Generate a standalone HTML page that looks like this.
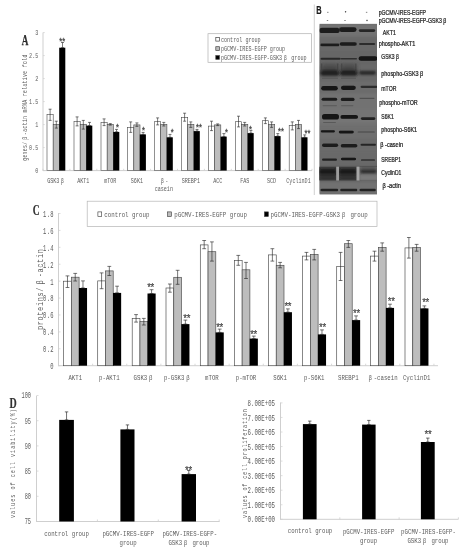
<!DOCTYPE html>
<html lang="en">
<head>
<meta charset="utf-8">
<title>Figure</title>
<style>
html,body{margin:0;padding:0;background:#fff;}
body{width:466px;height:550px;overflow:hidden;}
svg{display:block;filter:blur(0.3px);}
.sf{font-family:"Liberation Serif", "Noto Serif CJK SC", serif;fill:#333333;}
.mf{font-family:"Liberation Mono", "Noto Sans CJK SC", monospace;fill:#5c5c5c;}
.ss{font-family:"Liberation Sans", "Noto Sans CJK SC", sans-serif;fill:#1a1a1a;}
</style>
</head>
<body>
<svg width="466" height="550" viewBox="0 0 466 550">
<rect x="0" y="0" width="466" height="550" fill="#ffffff"/>
<line x1="43.00" y1="32.50" x2="43.00" y2="170.90" stroke="#cfcfcf" stroke-width="1.0"/>
<line x1="43.00" y1="170.60" x2="312.00" y2="170.60" stroke="#cfcfcf" stroke-width="1.0"/>
<line x1="43.00" y1="170.60" x2="44.80" y2="170.60" stroke="#cfcfcf" stroke-width="0.7"/>
<g transform="translate(38.30 170.50) scale(0.6914 1)" class="mf" font-size="7.4">
<text x="-4.44" y="2.44">0</text>
</g>
<line x1="43.00" y1="147.60" x2="44.80" y2="147.60" stroke="#cfcfcf" stroke-width="0.7"/>
<g transform="translate(38.30 147.50) scale(0.6914 1)" class="mf" font-size="7.4">
<text x="-13.32 -8.88 -4.44" y="2.44">0.5</text>
</g>
<line x1="43.00" y1="124.60" x2="44.80" y2="124.60" stroke="#cfcfcf" stroke-width="0.7"/>
<g transform="translate(38.30 124.50) scale(0.6914 1)" class="mf" font-size="7.4">
<text x="-4.44" y="2.44">1</text>
</g>
<line x1="43.00" y1="101.60" x2="44.80" y2="101.60" stroke="#cfcfcf" stroke-width="0.7"/>
<g transform="translate(38.30 101.50) scale(0.6914 1)" class="mf" font-size="7.4">
<text x="-13.32 -8.88 -4.44" y="2.44">1.5</text>
</g>
<line x1="43.00" y1="78.60" x2="44.80" y2="78.60" stroke="#cfcfcf" stroke-width="0.7"/>
<g transform="translate(38.30 78.50) scale(0.6914 1)" class="mf" font-size="7.4">
<text x="-4.44" y="2.44">2</text>
</g>
<line x1="43.00" y1="55.60" x2="44.80" y2="55.60" stroke="#cfcfcf" stroke-width="0.7"/>
<g transform="translate(38.30 55.50) scale(0.6914 1)" class="mf" font-size="7.4">
<text x="-13.32 -8.88 -4.44" y="2.44">2.5</text>
</g>
<line x1="43.00" y1="32.60" x2="44.80" y2="32.60" stroke="#cfcfcf" stroke-width="0.7"/>
<g transform="translate(38.30 32.50) scale(0.6914 1)" class="mf" font-size="7.4">
<text x="-4.44" y="2.44">3</text>
</g>
<line x1="43.00" y1="168.80" x2="43.00" y2="170.60" stroke="#cfcfcf" stroke-width="0.8"/>
<line x1="69.90" y1="168.80" x2="69.90" y2="170.60" stroke="#cfcfcf" stroke-width="0.8"/>
<line x1="96.80" y1="168.80" x2="96.80" y2="170.60" stroke="#cfcfcf" stroke-width="0.8"/>
<line x1="123.70" y1="168.80" x2="123.70" y2="170.60" stroke="#cfcfcf" stroke-width="0.8"/>
<line x1="150.60" y1="168.80" x2="150.60" y2="170.60" stroke="#cfcfcf" stroke-width="0.8"/>
<line x1="177.50" y1="168.80" x2="177.50" y2="170.60" stroke="#cfcfcf" stroke-width="0.8"/>
<line x1="204.40" y1="168.80" x2="204.40" y2="170.60" stroke="#cfcfcf" stroke-width="0.8"/>
<line x1="231.30" y1="168.80" x2="231.30" y2="170.60" stroke="#cfcfcf" stroke-width="0.8"/>
<line x1="258.20" y1="168.80" x2="258.20" y2="170.60" stroke="#cfcfcf" stroke-width="0.8"/>
<line x1="285.10" y1="168.80" x2="285.10" y2="170.60" stroke="#cfcfcf" stroke-width="0.8"/>
<line x1="312.00" y1="168.80" x2="312.00" y2="170.60" stroke="#cfcfcf" stroke-width="0.8"/>
<rect x="47.00" y="114.40" width="6.20" height="56.20" fill="#fff" stroke="#484848" stroke-width="0.6"/>
<line x1="50.10" y1="109.20" x2="50.10" y2="120.40" stroke="#222" stroke-width="0.6"/>
<line x1="48.60" y1="109.20" x2="51.60" y2="109.20" stroke="#222" stroke-width="0.6"/>
<line x1="48.60" y1="120.40" x2="51.60" y2="120.40" stroke="#222" stroke-width="0.6"/>
<rect x="53.20" y="124.40" width="6.20" height="46.20" fill="#bdbdbd" stroke="#484848" stroke-width="0.6"/>
<line x1="56.30" y1="121.20" x2="56.30" y2="128.10" stroke="#222" stroke-width="0.6"/>
<line x1="54.80" y1="121.20" x2="57.80" y2="121.20" stroke="#222" stroke-width="0.6"/>
<line x1="54.80" y1="128.10" x2="57.80" y2="128.10" stroke="#222" stroke-width="0.6"/>
<rect x="59.20" y="47.70" width="6.10" height="122.90" fill="#000"/>
<line x1="62.50" y1="42.50" x2="62.50" y2="47.70" stroke="#222" stroke-width="0.6"/>
<line x1="61.00" y1="42.50" x2="64.00" y2="42.50" stroke="#222" stroke-width="0.6"/>
<line x1="61.00" y1="47.70" x2="64.00" y2="47.70" stroke="#222" stroke-width="0.6"/>
<text class="mf" transform="scale(0.8419 1)" x="69.57 73.13" y="44.54" font-size="8.82" fill="#333" stroke="#333" stroke-width="0.25">**</text>
<g transform="translate(56.30 180.70) scale(0.6517 1)" class="mf" font-size="7.8">
<text x="-14.04 -9.36 -4.68 0.00" y="2.57">GSK3</text>
<text x="7.02" y="2.57">β</text>
</g>
<rect x="74.00" y="121.40" width="6.20" height="49.20" fill="#fff" stroke="#484848" stroke-width="0.6"/>
<line x1="77.10" y1="116.90" x2="77.10" y2="125.90" stroke="#222" stroke-width="0.6"/>
<line x1="75.60" y1="116.90" x2="78.60" y2="116.90" stroke="#222" stroke-width="0.6"/>
<line x1="75.60" y1="125.90" x2="78.60" y2="125.90" stroke="#222" stroke-width="0.6"/>
<rect x="80.20" y="124.40" width="6.20" height="46.20" fill="#bdbdbd" stroke="#484848" stroke-width="0.6"/>
<line x1="83.30" y1="120.40" x2="83.30" y2="129.10" stroke="#222" stroke-width="0.6"/>
<line x1="81.80" y1="120.40" x2="84.80" y2="120.40" stroke="#222" stroke-width="0.6"/>
<line x1="81.80" y1="129.10" x2="84.80" y2="129.10" stroke="#222" stroke-width="0.6"/>
<rect x="86.20" y="125.60" width="6.10" height="45.00" fill="#000"/>
<line x1="89.50" y1="122.40" x2="89.50" y2="125.60" stroke="#222" stroke-width="0.6"/>
<line x1="88.00" y1="122.40" x2="91.00" y2="122.40" stroke="#222" stroke-width="0.6"/>
<line x1="88.00" y1="125.60" x2="91.00" y2="125.60" stroke="#222" stroke-width="0.6"/>
<g transform="translate(83.30 180.70) scale(0.6517 1)" class="mf" font-size="7.8">
<text x="-9.36 -4.68 0.00 4.68" y="2.57">AKT1</text>
</g>
<rect x="101.00" y="122.40" width="6.20" height="48.20" fill="#fff" stroke="#484848" stroke-width="0.6"/>
<line x1="104.10" y1="118.90" x2="104.10" y2="125.60" stroke="#222" stroke-width="0.6"/>
<line x1="102.60" y1="118.90" x2="105.60" y2="118.90" stroke="#222" stroke-width="0.6"/>
<line x1="102.60" y1="125.60" x2="105.60" y2="125.60" stroke="#222" stroke-width="0.6"/>
<rect x="107.20" y="124.40" width="6.20" height="46.20" fill="#bdbdbd" stroke="#484848" stroke-width="0.6"/>
<line x1="110.30" y1="123.60" x2="110.30" y2="125.10" stroke="#222" stroke-width="0.6"/>
<line x1="108.80" y1="123.60" x2="111.80" y2="123.60" stroke="#222" stroke-width="0.6"/>
<line x1="108.80" y1="125.10" x2="111.80" y2="125.10" stroke="#222" stroke-width="0.6"/>
<rect x="113.20" y="131.90" width="6.10" height="38.70" fill="#000"/>
<line x1="116.50" y1="129.40" x2="116.50" y2="131.90" stroke="#222" stroke-width="0.6"/>
<line x1="115.00" y1="129.40" x2="118.00" y2="129.40" stroke="#222" stroke-width="0.6"/>
<line x1="115.00" y1="131.90" x2="118.00" y2="131.90" stroke="#222" stroke-width="0.6"/>
<text class="mf" transform="scale(0.8419 1)" x="137.04" y="130.94" font-size="8.82" fill="#333" stroke="#333" stroke-width="0.25">*</text>
<g transform="translate(110.30 180.70) scale(0.6517 1)" class="mf" font-size="7.8">
<text x="-9.36 -4.68 0.00 4.68" y="2.57">mTOR</text>
</g>
<rect x="127.60" y="127.40" width="6.20" height="43.20" fill="#fff" stroke="#484848" stroke-width="0.6"/>
<line x1="130.70" y1="121.90" x2="130.70" y2="132.40" stroke="#222" stroke-width="0.6"/>
<line x1="129.20" y1="121.90" x2="132.20" y2="121.90" stroke="#222" stroke-width="0.6"/>
<line x1="129.20" y1="132.40" x2="132.20" y2="132.40" stroke="#222" stroke-width="0.6"/>
<rect x="133.80" y="124.90" width="6.20" height="45.70" fill="#bdbdbd" stroke="#484848" stroke-width="0.6"/>
<line x1="136.90" y1="122.90" x2="136.90" y2="126.40" stroke="#222" stroke-width="0.6"/>
<line x1="135.40" y1="122.90" x2="138.40" y2="122.90" stroke="#222" stroke-width="0.6"/>
<line x1="135.40" y1="126.40" x2="138.40" y2="126.40" stroke="#222" stroke-width="0.6"/>
<rect x="139.80" y="134.40" width="6.10" height="36.20" fill="#000"/>
<line x1="143.10" y1="132.40" x2="143.10" y2="134.40" stroke="#222" stroke-width="0.6"/>
<line x1="141.60" y1="132.40" x2="144.60" y2="132.40" stroke="#222" stroke-width="0.6"/>
<line x1="141.60" y1="134.40" x2="144.60" y2="134.40" stroke="#222" stroke-width="0.6"/>
<text class="mf" transform="scale(0.8419 1)" x="167.68" y="133.74" font-size="8.82" fill="#333" stroke="#333" stroke-width="0.25">*</text>
<g transform="translate(136.90 180.70) scale(0.6517 1)" class="mf" font-size="7.8">
<text x="-9.36 -4.68 0.00 4.68" y="2.57">S6K1</text>
</g>
<rect x="154.50" y="121.70" width="6.20" height="48.90" fill="#fff" stroke="#484848" stroke-width="0.6"/>
<line x1="157.60" y1="117.90" x2="157.60" y2="124.90" stroke="#222" stroke-width="0.6"/>
<line x1="156.10" y1="117.90" x2="159.10" y2="117.90" stroke="#222" stroke-width="0.6"/>
<line x1="156.10" y1="124.90" x2="159.10" y2="124.90" stroke="#222" stroke-width="0.6"/>
<rect x="160.70" y="124.40" width="6.20" height="46.20" fill="#bdbdbd" stroke="#484848" stroke-width="0.6"/>
<line x1="163.80" y1="122.40" x2="163.80" y2="126.00" stroke="#222" stroke-width="0.6"/>
<line x1="162.30" y1="122.40" x2="165.30" y2="122.40" stroke="#222" stroke-width="0.6"/>
<line x1="162.30" y1="126.00" x2="165.30" y2="126.00" stroke="#222" stroke-width="0.6"/>
<rect x="166.70" y="137.30" width="6.10" height="33.30" fill="#000"/>
<line x1="170.00" y1="134.40" x2="170.00" y2="137.30" stroke="#222" stroke-width="0.6"/>
<line x1="168.50" y1="134.40" x2="171.50" y2="134.40" stroke="#222" stroke-width="0.6"/>
<line x1="168.50" y1="137.30" x2="171.50" y2="137.30" stroke="#222" stroke-width="0.6"/>
<text class="mf" transform="scale(0.8419 1)" x="202.01" y="136.34" font-size="8.82" fill="#333" stroke="#333" stroke-width="0.25">*</text>
<g transform="translate(163.80 180.70) scale(0.6517 1)" class="mf" font-size="7.8">
<text x="-4.68" y="2.57">β</text>
<text x="2.34" y="2.57">-</text>
</g>
<g transform="translate(163.80 188.60) scale(0.6517 1)" class="mf" font-size="7.8">
<text x="-14.04 -9.36 -4.68 0.00 4.68 9.36" y="2.57">casein</text>
</g>
<rect x="181.50" y="117.40" width="6.20" height="53.20" fill="#fff" stroke="#484848" stroke-width="0.6"/>
<line x1="184.60" y1="113.20" x2="184.60" y2="121.20" stroke="#222" stroke-width="0.6"/>
<line x1="183.10" y1="113.20" x2="186.10" y2="113.20" stroke="#222" stroke-width="0.6"/>
<line x1="183.10" y1="121.20" x2="186.10" y2="121.20" stroke="#222" stroke-width="0.6"/>
<rect x="187.70" y="124.40" width="6.20" height="46.20" fill="#bdbdbd" stroke="#484848" stroke-width="0.6"/>
<line x1="190.80" y1="121.90" x2="190.80" y2="127.40" stroke="#222" stroke-width="0.6"/>
<line x1="189.30" y1="121.90" x2="192.30" y2="121.90" stroke="#222" stroke-width="0.6"/>
<line x1="189.30" y1="127.40" x2="192.30" y2="127.40" stroke="#222" stroke-width="0.6"/>
<rect x="193.70" y="131.10" width="6.10" height="39.50" fill="#000"/>
<line x1="197.00" y1="129.40" x2="197.00" y2="131.10" stroke="#222" stroke-width="0.6"/>
<line x1="195.50" y1="129.40" x2="198.50" y2="129.40" stroke="#222" stroke-width="0.6"/>
<line x1="195.50" y1="131.10" x2="198.50" y2="131.10" stroke="#222" stroke-width="0.6"/>
<text class="mf" transform="scale(0.8419 1)" x="231.94 235.50" y="130.74" font-size="8.82" fill="#333" stroke="#333" stroke-width="0.25">**</text>
<g transform="translate(190.80 180.70) scale(0.6517 1)" class="mf" font-size="7.8">
<text x="-14.04 -9.36 -4.68 0.00 4.68 9.36" y="2.57">SREBP1</text>
</g>
<rect x="208.40" y="126.10" width="6.20" height="44.50" fill="#fff" stroke="#484848" stroke-width="0.6"/>
<line x1="211.50" y1="121.20" x2="211.50" y2="130.60" stroke="#222" stroke-width="0.6"/>
<line x1="210.00" y1="121.20" x2="213.00" y2="121.20" stroke="#222" stroke-width="0.6"/>
<line x1="210.00" y1="130.60" x2="213.00" y2="130.60" stroke="#222" stroke-width="0.6"/>
<rect x="214.60" y="124.90" width="6.20" height="45.70" fill="#bdbdbd" stroke="#484848" stroke-width="0.6"/>
<line x1="217.70" y1="123.90" x2="217.70" y2="125.60" stroke="#222" stroke-width="0.6"/>
<line x1="216.20" y1="123.90" x2="219.20" y2="123.90" stroke="#222" stroke-width="0.6"/>
<line x1="216.20" y1="125.60" x2="219.20" y2="125.60" stroke="#222" stroke-width="0.6"/>
<rect x="220.60" y="136.60" width="6.10" height="34.00" fill="#000"/>
<line x1="223.90" y1="133.60" x2="223.90" y2="136.60" stroke="#222" stroke-width="0.6"/>
<line x1="222.40" y1="133.60" x2="225.40" y2="133.60" stroke="#222" stroke-width="0.6"/>
<line x1="222.40" y1="136.60" x2="225.40" y2="136.60" stroke="#222" stroke-width="0.6"/>
<text class="mf" transform="scale(0.8419 1)" x="266.39" y="136.14" font-size="8.82" fill="#333" stroke="#333" stroke-width="0.25">*</text>
<g transform="translate(217.70 180.70) scale(0.6517 1)" class="mf" font-size="7.8">
<text x="-7.02 -2.34 2.34" y="2.57">ACC</text>
</g>
<rect x="235.40" y="121.70" width="6.20" height="48.90" fill="#fff" stroke="#484848" stroke-width="0.6"/>
<line x1="238.50" y1="116.20" x2="238.50" y2="126.90" stroke="#222" stroke-width="0.6"/>
<line x1="237.00" y1="116.20" x2="240.00" y2="116.20" stroke="#222" stroke-width="0.6"/>
<line x1="237.00" y1="126.90" x2="240.00" y2="126.90" stroke="#222" stroke-width="0.6"/>
<rect x="241.60" y="124.40" width="6.20" height="46.20" fill="#bdbdbd" stroke="#484848" stroke-width="0.6"/>
<line x1="244.70" y1="122.40" x2="244.70" y2="126.00" stroke="#222" stroke-width="0.6"/>
<line x1="243.20" y1="122.40" x2="246.20" y2="122.40" stroke="#222" stroke-width="0.6"/>
<line x1="243.20" y1="126.00" x2="246.20" y2="126.00" stroke="#222" stroke-width="0.6"/>
<rect x="247.60" y="133.10" width="6.10" height="37.50" fill="#000"/>
<line x1="250.90" y1="130.40" x2="250.90" y2="133.10" stroke="#222" stroke-width="0.6"/>
<line x1="249.40" y1="130.40" x2="252.40" y2="130.40" stroke="#222" stroke-width="0.6"/>
<line x1="249.40" y1="133.10" x2="252.40" y2="133.10" stroke="#222" stroke-width="0.6"/>
<text class="mf" transform="scale(0.8419 1)" x="295.01" y="132.54" font-size="8.82" fill="#333" stroke="#333" stroke-width="0.25">*</text>
<g transform="translate(244.70 180.70) scale(0.6517 1)" class="mf" font-size="7.8">
<text x="-7.02 -2.34 2.34" y="2.57">FAS</text>
</g>
<rect x="262.30" y="120.70" width="6.20" height="49.90" fill="#fff" stroke="#484848" stroke-width="0.6"/>
<line x1="265.40" y1="117.90" x2="265.40" y2="123.60" stroke="#222" stroke-width="0.6"/>
<line x1="263.90" y1="117.90" x2="266.90" y2="117.90" stroke="#222" stroke-width="0.6"/>
<line x1="263.90" y1="123.60" x2="266.90" y2="123.60" stroke="#222" stroke-width="0.6"/>
<rect x="268.50" y="124.40" width="6.20" height="46.20" fill="#bdbdbd" stroke="#484848" stroke-width="0.6"/>
<line x1="271.60" y1="121.90" x2="271.60" y2="127.40" stroke="#222" stroke-width="0.6"/>
<line x1="270.10" y1="121.90" x2="273.10" y2="121.90" stroke="#222" stroke-width="0.6"/>
<line x1="270.10" y1="127.40" x2="273.10" y2="127.40" stroke="#222" stroke-width="0.6"/>
<rect x="274.50" y="136.10" width="6.10" height="34.50" fill="#000"/>
<line x1="277.80" y1="133.60" x2="277.80" y2="136.10" stroke="#222" stroke-width="0.6"/>
<line x1="276.30" y1="133.60" x2="279.30" y2="133.60" stroke="#222" stroke-width="0.6"/>
<line x1="276.30" y1="136.10" x2="279.30" y2="136.10" stroke="#222" stroke-width="0.6"/>
<text class="mf" transform="scale(0.8419 1)" x="329.34 332.90" y="134.94" font-size="8.82" fill="#333" stroke="#333" stroke-width="0.25">**</text>
<g transform="translate(271.60 180.70) scale(0.6517 1)" class="mf" font-size="7.8">
<text x="-7.02 -2.34 2.34" y="2.57">SCD</text>
</g>
<rect x="289.20" y="125.60" width="6.20" height="45.00" fill="#fff" stroke="#484848" stroke-width="0.6"/>
<line x1="292.30" y1="121.90" x2="292.30" y2="129.90" stroke="#222" stroke-width="0.6"/>
<line x1="290.80" y1="121.90" x2="293.80" y2="121.90" stroke="#222" stroke-width="0.6"/>
<line x1="290.80" y1="129.90" x2="293.80" y2="129.90" stroke="#222" stroke-width="0.6"/>
<rect x="295.40" y="124.40" width="6.20" height="46.20" fill="#bdbdbd" stroke="#484848" stroke-width="0.6"/>
<line x1="298.50" y1="120.40" x2="298.50" y2="128.60" stroke="#222" stroke-width="0.6"/>
<line x1="297.00" y1="120.40" x2="300.00" y2="120.40" stroke="#222" stroke-width="0.6"/>
<line x1="297.00" y1="128.60" x2="300.00" y2="128.60" stroke="#222" stroke-width="0.6"/>
<rect x="301.40" y="137.30" width="6.10" height="33.30" fill="#000"/>
<line x1="304.70" y1="134.90" x2="304.70" y2="137.30" stroke="#222" stroke-width="0.6"/>
<line x1="303.20" y1="134.90" x2="306.20" y2="134.90" stroke="#222" stroke-width="0.6"/>
<line x1="303.20" y1="137.30" x2="306.20" y2="137.30" stroke="#222" stroke-width="0.6"/>
<text class="mf" transform="scale(0.8419 1)" x="360.93 364.50" y="136.94" font-size="8.82" fill="#333" stroke="#333" stroke-width="0.25">**</text>
<g transform="translate(298.50 180.70) scale(0.6517 1)" class="mf" font-size="7.8">
<text x="-18.72 -14.04 -9.36 -4.68 0.00 4.68 9.36 14.04" y="2.57">CyclinD1</text>
</g>
<g transform="translate(24.50 161.00) rotate(-90) scale(0.7108 1)" class="mf" font-size="6.8" fill="#666666">
<text x="0.23 4.77 9.31 13.85 18.39 22.93" y="2.24">genes/</text>
<text x="29.74" y="2.24">β</text>
<text x="36.55 41.09 45.63 50.18 54.72 59.26" y="2.24">-actin</text>
<text x="68.34 72.88 77.42 81.96" y="2.24">mRNA</text>
<text x="91.04 95.58 100.12 104.66 109.20 113.74 118.28 122.82" y="2.24">relative</text>
<text x="131.90 136.44 140.98 145.52" y="2.24">fold</text>
</g>
<text class="sf" x="21.70" y="45.30" font-size="14.4" textLength="6.60" lengthAdjust="spacingAndGlyphs" fill="#111" font-weight="bold" stroke="#111" stroke-width="0.25">A</text>
<rect x="208.00" y="33.70" width="103.50" height="28.60" fill="#fff" stroke="#b0b0b0" stroke-width="0.7"/>
<rect x="215.80" y="37.40" width="3.60" height="3.70" fill="#fff" stroke="#444" stroke-width="0.7"/>
<g transform="translate(220.90 39.10) scale(0.6711 1)" class="mf" font-size="7.6">
<text x="0.00 4.56 9.12 13.68 18.24 22.80 27.36" y="2.51">control</text>
<text x="36.48 41.04 45.60 50.16 54.72" y="2.51">group</text>
</g>
<rect x="215.80" y="46.70" width="3.60" height="3.70" fill="#bdbdbd" stroke="#444" stroke-width="0.7"/>
<g transform="translate(220.90 48.40) scale(0.6711 1)" class="mf" font-size="7.6">
<text x="0.00 4.56 9.12 13.68 18.24 22.80 27.36 31.92 36.48 41.04 45.60 50.16 54.72 59.28 63.84" y="2.51">pGCMV-IRES-EGFP</text>
<text x="72.96 77.52 82.08 86.64 91.20" y="2.51">group</text>
</g>
<rect x="215.80" y="55.60" width="3.60" height="3.70" fill="#000" stroke="#444" stroke-width="0.7"/>
<g transform="translate(220.90 57.30) scale(0.6711 1)" class="mf" font-size="7.6">
<text x="0.00 4.56 9.12 13.68 18.24 22.80 27.36 31.92 36.48 41.04 45.60 50.16 54.72 59.28 63.84 68.40 72.96 77.52 82.08 86.64" y="2.51">pGCMV-IRES-EGFP-GSK3</text>
<text x="93.48" y="2.51">β</text>
<text x="104.88 109.44 114.00 118.56 123.12" y="2.51">group</text>
</g>
<line x1="314.30" y1="4.50" x2="314.30" y2="195.00" stroke="#c4c4c4" stroke-width="0.8"/>
<defs>
<filter id="b1" x="-20%" y="-80%" width="140%" height="260%"><feGaussianBlur stdDeviation="0.6"/></filter>
<filter id="b2" x="-20%" y="-80%" width="140%" height="260%"><feGaussianBlur stdDeviation="1.3"/></filter>
<filter id="b3" x="-20%" y="-40%" width="140%" height="180%"><feGaussianBlur stdDeviation="2.2"/></filter>
<filter id="bs" x="-10%" y="-10%" width="120%" height="120%"><feGaussianBlur stdDeviation="1.6"/></filter>
<clipPath id="bc"><rect x="319.5" y="23.8" width="57.5" height="170.7"/></clipPath>
</defs>
<g clip-path="url(#bc)">
<rect x="319.5" y="23.8" width="57.5" height="170.7" fill="#6c6c6c"/>
<g filter="url(#bs)">
<rect x="313.5" y="23.8" width="69.5" height="12.7" fill="#737373"/>
<rect x="313.5" y="36.5" width="69.5" height="14.5" fill="#686868"/>
<rect x="313.5" y="51" width="69.5" height="13.5" fill="#666666"/>
<rect x="313.5" y="64.5" width="69.5" height="16.5" fill="#676767"/>
<rect x="313.5" y="81" width="69.5" height="12.5" fill="#6c6c6c"/>
<rect x="313.5" y="93.5" width="69.5" height="15.5" fill="#727272"/>
<rect x="313.5" y="109" width="69.5" height="15.5" fill="#747474"/>
<rect x="313.5" y="124.5" width="69.5" height="13.5" fill="#6e6e6e"/>
<rect x="313.5" y="138" width="69.5" height="14.5" fill="#6a6a6a"/>
<rect x="313.5" y="152.5" width="69.5" height="14.0" fill="#696969"/>
<rect x="313.5" y="166.5" width="69.5" height="14.5" fill="#565656"/>
<rect x="313.5" y="181" width="69.5" height="13.5" fill="#717171"/>
</g>
<rect x="319.3" y="27.75" width="20.3" height="5.30" rx="2.60" fill="#1e1e1e" opacity="1.0" filter="url(#b1)"/>
<rect x="339.0" y="27.20" width="17.6" height="4.80" rx="2.40" fill="#1e1e1e" opacity="1.0" filter="url(#b1)"/>
<rect x="358.8" y="29.20" width="16.4" height="2.80" rx="1.40" fill="#262626" opacity="1.0" filter="url(#b1)"/>
<rect x="320.4" y="43.45" width="19.0" height="2.90" rx="1.45" fill="#1e1e1e" opacity="1.0" filter="url(#b1)"/>
<rect x="339.6" y="42.20" width="17.2" height="3.60" rx="1.80" fill="#1e1e1e" opacity="1.0" filter="url(#b1)"/>
<rect x="359.0" y="42.95" width="16.2" height="2.10" rx="1.05" fill="#282828" opacity="0.9" filter="url(#b1)"/>
<rect x="320.6" y="57.85" width="20.0" height="1.90" rx="0.95" fill="#222" opacity="0.9" filter="url(#b1)"/>
<rect x="340.6" y="58.00" width="16.4" height="1.60" rx="0.80" fill="#262626" opacity="0.85" filter="url(#b1)"/>
<rect x="358.6" y="56.20" width="18.9" height="4.60" rx="2.30" fill="#141414" opacity="1.0" filter="url(#b1)"/>
<rect x="321.0" y="64.25" width="17.8" height="9.50" rx="2.60" fill="#333" opacity="0.6" filter="url(#b3)"/>
<rect x="340.6" y="64.25" width="16.2" height="9.50" rx="2.60" fill="#333" opacity="0.6" filter="url(#b3)"/>
<rect x="320.4" y="70.40" width="18.8" height="5.20" rx="2.60" fill="#1c1c1c" opacity="0.95" filter="url(#b2)"/>
<rect x="340.0" y="70.20" width="17.4" height="5.40" rx="2.60" fill="#1c1c1c" opacity="0.95" filter="url(#b2)"/>
<rect x="359.0" y="70.80" width="17.0" height="4.00" rx="2.00" fill="#242424" opacity="0.9" filter="url(#b2)"/>
<rect x="320.90000000000003" y="63.5" width="1.4" height="9" fill="#3a3a3a" opacity="0.55" filter="url(#b1)"/>
<rect x="336.90000000000003" y="63.5" width="1.4" height="9" fill="#3a3a3a" opacity="0.55" filter="url(#b1)"/>
<rect x="340.90000000000003" y="63.5" width="1.4" height="9" fill="#3a3a3a" opacity="0.55" filter="url(#b1)"/>
<rect x="355.1" y="63.5" width="1.4" height="9" fill="#3a3a3a" opacity="0.55" filter="url(#b1)"/>
<rect x="322.0" y="77.80" width="16.0" height="1.00" rx="0.50" fill="#444" opacity="0.5" filter="url(#b1)"/>
<rect x="341.0" y="77.80" width="15.0" height="1.00" rx="0.50" fill="#444" opacity="0.5" filter="url(#b1)"/>
<rect x="321.2" y="85.90" width="16.6" height="4.60" rx="2.30" fill="#141414" opacity="1.0" filter="url(#b1)"/>
<rect x="341.0" y="85.70" width="14.8" height="4.20" rx="2.10" fill="#141414" opacity="1.0" filter="url(#b1)"/>
<rect x="360.6" y="85.70" width="16.9" height="2.20" rx="1.10" fill="#262626" opacity="0.9" filter="url(#b1)"/>
<rect x="321.6" y="97.65" width="15.6" height="3.10" rx="1.55" fill="#1c1c1c" opacity="1.0" filter="url(#b1)"/>
<rect x="340.8" y="97.85" width="13.8" height="3.10" rx="1.55" fill="#1c1c1c" opacity="1.0" filter="url(#b1)"/>
<rect x="359.5" y="97.70" width="15.0" height="1.20" rx="0.60" fill="#3a3a3a" opacity="0.6" filter="url(#b1)"/>
<rect x="322.5" y="105.35" width="14.5" height="0.90" rx="0.45" fill="#444" opacity="0.55" filter="url(#b1)"/>
<rect x="341.0" y="105.35" width="12.5" height="0.90" rx="0.45" fill="#444" opacity="0.55" filter="url(#b1)"/>
<rect x="322.0" y="114.00" width="17.0" height="5.60" rx="2.60" fill="#141414" opacity="1.0" filter="url(#b1)"/>
<rect x="340.4" y="114.95" width="17.6" height="3.90" rx="1.95" fill="#141414" opacity="1.0" filter="url(#b1)"/>
<rect x="360.9" y="117.20" width="14.4" height="2.80" rx="1.40" fill="#202020" opacity="1.0" filter="url(#b1)"/>
<rect x="323.0" y="121.90" width="13.0" height="0.80" rx="0.40" fill="#3a3a3a" opacity="0.6" filter="url(#b1)"/>
<rect x="320.8" y="130.15" width="14.2" height="2.30" rx="1.15" fill="#141414" opacity="1.0" filter="url(#b1)"/>
<rect x="338.8" y="130.70" width="15.0" height="2.80" rx="1.40" fill="#141414" opacity="1.0" filter="url(#b1)"/>
<rect x="357.6" y="131.40" width="17.2" height="1.20" rx="0.60" fill="#333" opacity="0.65" filter="url(#b1)"/>
<rect x="322.0" y="143.55" width="16.2" height="3.50" rx="1.75" fill="#1e1e1e" opacity="1.0" filter="url(#b1)"/>
<rect x="340.7" y="143.95" width="16.7" height="3.50" rx="1.75" fill="#1e1e1e" opacity="1.0" filter="url(#b1)"/>
<rect x="360.5" y="143.75" width="15.5" height="2.10" rx="1.05" fill="#222" opacity="0.95" filter="url(#b1)"/>
<rect x="322.0" y="158.60" width="15.0" height="2.20" rx="1.10" fill="#222" opacity="1.0" filter="url(#b1)"/>
<rect x="341.0" y="157.65" width="15.0" height="2.70" rx="1.35" fill="#141414" opacity="1.0" filter="url(#b1)"/>
<rect x="361.0" y="159.15" width="14.0" height="1.70" rx="0.85" fill="#262626" opacity="0.9" filter="url(#b1)"/>
<rect x="318.0" y="166.6" width="60.5" height="14.0" fill="#4a4a4a" opacity="1.0" filter="url(#b1)"/>
<rect x="318.5" y="167.2" width="17.9" height="12.8" fill="#3c3c3c" opacity="1.0" filter="url(#b1)"/>
<rect x="339.0" y="167.2" width="17.6" height="12.8" fill="#3c3c3c" opacity="1.0" filter="url(#b1)"/>
<rect x="319.0" y="169.10" width="17.6" height="5.40" rx="2.60" fill="#141414" opacity="0.9" filter="url(#b2)"/>
<rect x="339.0" y="169.10" width="17.8" height="5.40" rx="2.60" fill="#141414" opacity="0.9" filter="url(#b2)"/>
<rect x="320.0" y="176.50" width="16.0" height="2.20" rx="1.10" fill="#1c1c1c" opacity="0.55" filter="url(#b2)"/>
<rect x="339.6" y="176.50" width="16.6" height="2.20" rx="1.10" fill="#1c1c1c" opacity="0.55" filter="url(#b2)"/>
<rect x="359.4" y="167.0" width="19.1" height="13.4" fill="#6a6a6a" opacity="1.0" filter="url(#b1)"/>
<rect x="359.8" y="174.5" width="18.7" height="5.7" fill="#7c7c7c" opacity="0.9" filter="url(#b2)"/>
<rect x="360.2" y="169.60" width="16.4" height="3.60" rx="1.80" fill="#2a2a2a" opacity="0.95" filter="url(#b2)"/>
<rect x="360.5" y="167.50" width="15.5" height="1.40" rx="0.70" fill="#3c3c3c" opacity="0.6" filter="url(#b2)"/>
<rect x="336.2" y="166.6" width="2.8" height="14.0" fill="#9c9c9c" opacity="1.0" filter="url(#b1)"/>
<rect x="356.5" y="166.6" width="3.0" height="14.0" fill="#a6a6a6" opacity="1.0" filter="url(#b1)"/>
<rect x="320.5" y="188.65" width="17.7" height="2.50" rx="1.25" fill="#222" opacity="1.0" filter="url(#b1)"/>
<rect x="340.2" y="188.75" width="17.1" height="2.50" rx="1.25" fill="#222" opacity="1.0" filter="url(#b1)"/>
<rect x="359.5" y="188.85" width="16.3" height="2.50" rx="1.25" fill="#222" opacity="1.0" filter="url(#b1)"/>
</g>
<text class="ss" x="316.30" y="14.30" font-size="10.2" textLength="5.40" lengthAdjust="spacingAndGlyphs" stroke="#222" stroke-width="0.22" font-weight="bold" fill="#111">B</text>
<text class="ss" x="378.70" y="15.00" font-size="6.3" textLength="47.30" lengthAdjust="spacingAndGlyphs" stroke="#222" stroke-width="0.22">pGCMV-IRES-EGFP</text>
<text class="ss" x="378.70" y="23.20" font-size="6.3" textLength="67.50" lengthAdjust="spacingAndGlyphs" stroke="#222" stroke-width="0.22">pGCMV-IRES-EGFP-GSK3 β</text>
<text class="ss" x="382.80" y="35.00" font-size="6.3" textLength="13.00" lengthAdjust="spacingAndGlyphs" stroke="#222" stroke-width="0.22">AKT1</text>
<text class="ss" x="378.70" y="46.30" font-size="6.3" textLength="36.60" lengthAdjust="spacingAndGlyphs" stroke="#222" stroke-width="0.22">phospho-AKT1</text>
<text class="ss" x="381.30" y="59.30" font-size="6.3" textLength="17.50" lengthAdjust="spacingAndGlyphs" stroke="#222" stroke-width="0.22">GSK3 β</text>
<text class="ss" x="381.30" y="76.20" font-size="6.3" textLength="41.90" lengthAdjust="spacingAndGlyphs" stroke="#222" stroke-width="0.22">phospho-GSK3 β</text>
<text class="ss" x="381.30" y="91.00" font-size="6.3" textLength="15.10" lengthAdjust="spacingAndGlyphs" stroke="#222" stroke-width="0.22">mTOR</text>
<text class="ss" x="379.30" y="104.80" font-size="6.3" textLength="38.50" lengthAdjust="spacingAndGlyphs" stroke="#222" stroke-width="0.22">phospho-mTOR</text>
<text class="ss" x="381.30" y="118.60" font-size="6.3" textLength="12.40" lengthAdjust="spacingAndGlyphs" stroke="#222" stroke-width="0.22">S6K1</text>
<text class="ss" x="381.30" y="132.40" font-size="6.3" textLength="35.70" lengthAdjust="spacingAndGlyphs" stroke="#222" stroke-width="0.22">phospho-S6K1</text>
<text class="ss" x="380.30" y="147.00" font-size="6.3" textLength="22.70" lengthAdjust="spacingAndGlyphs" stroke="#222" stroke-width="0.22">β -casein</text>
<text class="ss" x="381.30" y="161.90" font-size="6.3" textLength="19.60" lengthAdjust="spacingAndGlyphs" stroke="#222" stroke-width="0.22">SREBP1</text>
<text class="ss" x="381.30" y="174.90" font-size="6.3" textLength="20.00" lengthAdjust="spacingAndGlyphs" stroke="#222" stroke-width="0.22">CyclinD1</text>
<text class="ss" x="382.40" y="187.60" font-size="6.3" textLength="18.50" lengthAdjust="spacingAndGlyphs" stroke="#222" stroke-width="0.22">β -actin</text>
<rect x="327.10" y="11.90" width="1.4" height="0.6" fill="#333"/>
<rect x="344.90" y="11.50" width="1.4" height="0.6" fill="#333"/>
<rect x="345.30" y="11.00" width="0.6" height="1.6" fill="#333"/>
<rect x="365.90" y="11.90" width="1.4" height="0.6" fill="#333"/>
<rect x="326.80" y="20.30" width="1.4" height="0.6" fill="#333"/>
<rect x="344.30" y="20.30" width="1.4" height="0.6" fill="#333"/>
<rect x="366.30" y="20.10" width="1.4" height="0.6" fill="#333"/>
<rect x="366.70" y="19.60" width="0.6" height="1.6" fill="#333"/>
<line x1="58.50" y1="213.00" x2="58.50" y2="366.20" stroke="#cfcfcf" stroke-width="1.0"/>
<line x1="58.50" y1="365.70" x2="438.00" y2="365.70" stroke="#cfcfcf" stroke-width="1.0"/>
<line x1="58.50" y1="365.70" x2="60.50" y2="365.70" stroke="#cfcfcf" stroke-width="0.7"/>
<g transform="translate(53.60 366.20) scale(0.6250 1)" class="mf" font-size="8.8">
<text x="-5.48" y="2.90">0</text>
</g>
<line x1="58.50" y1="348.79" x2="60.50" y2="348.79" stroke="#cfcfcf" stroke-width="0.7"/>
<g transform="translate(53.60 349.29) scale(0.6250 1)" class="mf" font-size="8.8">
<text x="-16.84 -11.16 -5.48" y="2.90">0.2</text>
</g>
<line x1="58.50" y1="331.88" x2="60.50" y2="331.88" stroke="#cfcfcf" stroke-width="0.7"/>
<g transform="translate(53.60 332.38) scale(0.6250 1)" class="mf" font-size="8.8">
<text x="-16.84 -11.16 -5.48" y="2.90">0.4</text>
</g>
<line x1="58.50" y1="314.97" x2="60.50" y2="314.97" stroke="#cfcfcf" stroke-width="0.7"/>
<g transform="translate(53.60 315.47) scale(0.6250 1)" class="mf" font-size="8.8">
<text x="-16.84 -11.16 -5.48" y="2.90">0.6</text>
</g>
<line x1="58.50" y1="298.06" x2="60.50" y2="298.06" stroke="#cfcfcf" stroke-width="0.7"/>
<g transform="translate(53.60 298.56) scale(0.6250 1)" class="mf" font-size="8.8">
<text x="-16.84 -11.16 -5.48" y="2.90">0.8</text>
</g>
<line x1="58.50" y1="281.15" x2="60.50" y2="281.15" stroke="#cfcfcf" stroke-width="0.7"/>
<g transform="translate(53.60 281.65) scale(0.6250 1)" class="mf" font-size="8.8">
<text x="-5.48" y="2.90">1</text>
</g>
<line x1="58.50" y1="264.24" x2="60.50" y2="264.24" stroke="#cfcfcf" stroke-width="0.7"/>
<g transform="translate(53.60 264.74) scale(0.6250 1)" class="mf" font-size="8.8">
<text x="-16.84 -11.16 -5.48" y="2.90">1.2</text>
</g>
<line x1="58.50" y1="247.33" x2="60.50" y2="247.33" stroke="#cfcfcf" stroke-width="0.7"/>
<g transform="translate(53.60 247.83) scale(0.6250 1)" class="mf" font-size="8.8">
<text x="-16.84 -11.16 -5.48" y="2.90">1.4</text>
</g>
<line x1="58.50" y1="230.42" x2="60.50" y2="230.42" stroke="#cfcfcf" stroke-width="0.7"/>
<g transform="translate(53.60 230.92) scale(0.6250 1)" class="mf" font-size="8.8">
<text x="-16.84 -11.16 -5.48" y="2.90">1.6</text>
</g>
<line x1="58.50" y1="213.51" x2="60.50" y2="213.51" stroke="#cfcfcf" stroke-width="0.7"/>
<g transform="translate(53.60 214.01) scale(0.6250 1)" class="mf" font-size="8.8">
<text x="-16.84 -11.16 -5.48" y="2.90">1.8</text>
</g>
<line x1="58.50" y1="363.70" x2="58.50" y2="365.70" stroke="#cfcfcf" stroke-width="0.8"/>
<line x1="92.63" y1="363.70" x2="92.63" y2="365.70" stroke="#cfcfcf" stroke-width="0.8"/>
<line x1="126.76" y1="363.70" x2="126.76" y2="365.70" stroke="#cfcfcf" stroke-width="0.8"/>
<line x1="160.89" y1="363.70" x2="160.89" y2="365.70" stroke="#cfcfcf" stroke-width="0.8"/>
<line x1="195.02" y1="363.70" x2="195.02" y2="365.70" stroke="#cfcfcf" stroke-width="0.8"/>
<line x1="229.15" y1="363.70" x2="229.15" y2="365.70" stroke="#cfcfcf" stroke-width="0.8"/>
<line x1="263.28" y1="363.70" x2="263.28" y2="365.70" stroke="#cfcfcf" stroke-width="0.8"/>
<line x1="297.41" y1="363.70" x2="297.41" y2="365.70" stroke="#cfcfcf" stroke-width="0.8"/>
<line x1="331.54" y1="363.70" x2="331.54" y2="365.70" stroke="#cfcfcf" stroke-width="0.8"/>
<line x1="365.67" y1="363.70" x2="365.67" y2="365.70" stroke="#cfcfcf" stroke-width="0.8"/>
<line x1="399.80" y1="363.70" x2="399.80" y2="365.70" stroke="#cfcfcf" stroke-width="0.8"/>
<line x1="433.93" y1="363.70" x2="433.93" y2="365.70" stroke="#cfcfcf" stroke-width="0.8"/>
<rect x="63.60" y="281.20" width="7.75" height="84.50" fill="#fff" stroke="#484848" stroke-width="0.65"/>
<line x1="67.47" y1="275.90" x2="67.47" y2="287.50" stroke="#222" stroke-width="0.62"/>
<line x1="65.57" y1="275.90" x2="69.38" y2="275.90" stroke="#222" stroke-width="0.62"/>
<line x1="65.57" y1="287.50" x2="69.38" y2="287.50" stroke="#222" stroke-width="0.62"/>
<rect x="71.35" y="277.20" width="7.75" height="88.50" fill="#bdbdbd" stroke="#484848" stroke-width="0.65"/>
<line x1="75.22" y1="273.40" x2="75.22" y2="281.00" stroke="#222" stroke-width="0.62"/>
<line x1="73.32" y1="273.40" x2="77.12" y2="273.40" stroke="#222" stroke-width="0.62"/>
<line x1="73.32" y1="281.00" x2="77.12" y2="281.00" stroke="#222" stroke-width="0.62"/>
<rect x="78.90" y="288.00" width="8.15" height="77.70" fill="#000"/>
<line x1="82.97" y1="280.90" x2="82.97" y2="288.00" stroke="#222" stroke-width="0.62"/>
<line x1="81.07" y1="280.90" x2="84.88" y2="280.90" stroke="#222" stroke-width="0.62"/>
<line x1="81.07" y1="288.00" x2="84.88" y2="288.00" stroke="#222" stroke-width="0.62"/>
<g transform="translate(75.22 377.40) scale(0.7125 1)" class="mf" font-size="8.0">
<text x="-9.60 -4.80 0.00 4.80" y="2.64">AKT1</text>
</g>
<rect x="97.70" y="280.90" width="7.75" height="84.80" fill="#fff" stroke="#484848" stroke-width="0.65"/>
<line x1="101.58" y1="272.90" x2="101.58" y2="288.70" stroke="#222" stroke-width="0.62"/>
<line x1="99.67" y1="272.90" x2="103.48" y2="272.90" stroke="#222" stroke-width="0.62"/>
<line x1="99.67" y1="288.70" x2="103.48" y2="288.70" stroke="#222" stroke-width="0.62"/>
<rect x="105.45" y="270.90" width="7.75" height="94.80" fill="#bdbdbd" stroke="#484848" stroke-width="0.65"/>
<line x1="109.33" y1="266.40" x2="109.33" y2="275.50" stroke="#222" stroke-width="0.62"/>
<line x1="107.42" y1="266.40" x2="111.23" y2="266.40" stroke="#222" stroke-width="0.62"/>
<line x1="107.42" y1="275.50" x2="111.23" y2="275.50" stroke="#222" stroke-width="0.62"/>
<rect x="113.00" y="292.90" width="8.15" height="72.80" fill="#000"/>
<line x1="117.08" y1="286.20" x2="117.08" y2="292.90" stroke="#222" stroke-width="0.62"/>
<line x1="115.17" y1="286.20" x2="118.98" y2="286.20" stroke="#222" stroke-width="0.62"/>
<line x1="115.17" y1="292.90" x2="118.98" y2="292.90" stroke="#222" stroke-width="0.62"/>
<g transform="translate(109.33 377.40) scale(0.7125 1)" class="mf" font-size="8.0">
<text x="-14.40 -9.60 -4.80 0.00 4.80 9.60" y="2.64">p-AKT1</text>
</g>
<rect x="132.20" y="318.40" width="7.75" height="47.30" fill="#fff" stroke="#484848" stroke-width="0.65"/>
<line x1="136.07" y1="314.60" x2="136.07" y2="322.10" stroke="#222" stroke-width="0.62"/>
<line x1="134.17" y1="314.60" x2="137.97" y2="314.60" stroke="#222" stroke-width="0.62"/>
<line x1="134.17" y1="322.10" x2="137.97" y2="322.10" stroke="#222" stroke-width="0.62"/>
<rect x="139.95" y="321.60" width="7.75" height="44.10" fill="#bdbdbd" stroke="#484848" stroke-width="0.65"/>
<line x1="143.82" y1="318.40" x2="143.82" y2="325.00" stroke="#222" stroke-width="0.62"/>
<line x1="141.92" y1="318.40" x2="145.72" y2="318.40" stroke="#222" stroke-width="0.62"/>
<line x1="141.92" y1="325.00" x2="145.72" y2="325.00" stroke="#222" stroke-width="0.62"/>
<rect x="147.50" y="293.50" width="8.15" height="72.20" fill="#000"/>
<line x1="151.57" y1="289.70" x2="151.57" y2="293.50" stroke="#222" stroke-width="0.62"/>
<line x1="149.67" y1="289.70" x2="153.47" y2="289.70" stroke="#222" stroke-width="0.62"/>
<line x1="149.67" y1="293.50" x2="153.47" y2="293.50" stroke="#222" stroke-width="0.62"/>
<text class="mf" transform="scale(0.8139 1)" x="179.93 184.10" y="291.49" font-size="10.88" fill="#333" stroke="#333" stroke-width="0.25">**</text>
<g transform="translate(143.82 377.40) scale(0.7125 1)" class="mf" font-size="8.0">
<text x="-14.40 -9.60 -4.80 0.00" y="2.64">GSK3</text>
<text x="7.20" y="2.64">β</text>
</g>
<rect x="166.00" y="288.00" width="7.75" height="77.70" fill="#fff" stroke="#484848" stroke-width="0.65"/>
<line x1="169.88" y1="284.00" x2="169.88" y2="292.20" stroke="#222" stroke-width="0.62"/>
<line x1="167.97" y1="284.00" x2="171.78" y2="284.00" stroke="#222" stroke-width="0.62"/>
<line x1="167.97" y1="292.20" x2="171.78" y2="292.20" stroke="#222" stroke-width="0.62"/>
<rect x="173.75" y="277.30" width="7.75" height="88.40" fill="#bdbdbd" stroke="#484848" stroke-width="0.65"/>
<line x1="177.62" y1="270.30" x2="177.62" y2="284.30" stroke="#222" stroke-width="0.62"/>
<line x1="175.72" y1="270.30" x2="179.53" y2="270.30" stroke="#222" stroke-width="0.62"/>
<line x1="175.72" y1="284.30" x2="179.53" y2="284.30" stroke="#222" stroke-width="0.62"/>
<rect x="181.30" y="324.10" width="8.15" height="41.60" fill="#000"/>
<line x1="185.38" y1="320.10" x2="185.38" y2="324.10" stroke="#222" stroke-width="0.62"/>
<line x1="183.47" y1="320.10" x2="187.28" y2="320.10" stroke="#222" stroke-width="0.62"/>
<line x1="183.47" y1="324.10" x2="187.28" y2="324.10" stroke="#222" stroke-width="0.62"/>
<text class="mf" transform="scale(0.8139 1)" x="224.28 228.46" y="322.09" font-size="10.88" fill="#333" stroke="#333" stroke-width="0.25">**</text>
<g transform="translate(177.62 377.40) scale(0.7125 1)" class="mf" font-size="8.0">
<text x="-19.20 -14.40 -9.60 -4.80 0.00 4.80" y="2.64">p-GSK3</text>
<text x="12.00" y="2.64">β</text>
</g>
<rect x="200.30" y="244.90" width="7.75" height="120.80" fill="#fff" stroke="#484848" stroke-width="0.65"/>
<line x1="204.18" y1="240.50" x2="204.18" y2="248.70" stroke="#222" stroke-width="0.62"/>
<line x1="202.28" y1="240.50" x2="206.08" y2="240.50" stroke="#222" stroke-width="0.62"/>
<line x1="202.28" y1="248.70" x2="206.08" y2="248.70" stroke="#222" stroke-width="0.62"/>
<rect x="208.05" y="251.70" width="7.75" height="114.00" fill="#bdbdbd" stroke="#484848" stroke-width="0.65"/>
<line x1="211.93" y1="241.90" x2="211.93" y2="261.10" stroke="#222" stroke-width="0.62"/>
<line x1="210.03" y1="241.90" x2="213.83" y2="241.90" stroke="#222" stroke-width="0.62"/>
<line x1="210.03" y1="261.10" x2="213.83" y2="261.10" stroke="#222" stroke-width="0.62"/>
<rect x="215.60" y="332.40" width="8.15" height="33.30" fill="#000"/>
<line x1="219.68" y1="329.10" x2="219.68" y2="332.40" stroke="#222" stroke-width="0.62"/>
<line x1="217.78" y1="329.10" x2="221.58" y2="329.10" stroke="#222" stroke-width="0.62"/>
<line x1="217.78" y1="332.40" x2="221.58" y2="332.40" stroke="#222" stroke-width="0.62"/>
<text class="mf" transform="scale(0.8139 1)" x="264.70 268.88" y="330.89" font-size="10.88" fill="#333" stroke="#333" stroke-width="0.25">**</text>
<g transform="translate(211.93 377.40) scale(0.7125 1)" class="mf" font-size="8.0">
<text x="-9.60 -4.80 0.00 4.80" y="2.64">mTOR</text>
</g>
<rect x="234.40" y="260.40" width="7.75" height="105.30" fill="#fff" stroke="#484848" stroke-width="0.65"/>
<line x1="238.28" y1="255.40" x2="238.28" y2="265.30" stroke="#222" stroke-width="0.62"/>
<line x1="236.38" y1="255.40" x2="240.18" y2="255.40" stroke="#222" stroke-width="0.62"/>
<line x1="236.38" y1="265.30" x2="240.18" y2="265.30" stroke="#222" stroke-width="0.62"/>
<rect x="242.15" y="269.80" width="7.75" height="95.90" fill="#bdbdbd" stroke="#484848" stroke-width="0.65"/>
<line x1="246.03" y1="262.40" x2="246.03" y2="278.50" stroke="#222" stroke-width="0.62"/>
<line x1="244.12" y1="262.40" x2="247.93" y2="262.40" stroke="#222" stroke-width="0.62"/>
<line x1="244.12" y1="278.50" x2="247.93" y2="278.50" stroke="#222" stroke-width="0.62"/>
<rect x="249.70" y="338.60" width="8.15" height="27.10" fill="#000"/>
<line x1="253.78" y1="336.10" x2="253.78" y2="338.60" stroke="#222" stroke-width="0.62"/>
<line x1="251.88" y1="336.10" x2="255.68" y2="336.10" stroke="#222" stroke-width="0.62"/>
<line x1="251.88" y1="338.60" x2="255.68" y2="338.60" stroke="#222" stroke-width="0.62"/>
<text class="mf" transform="scale(0.8139 1)" x="306.48 310.66" y="338.09" font-size="10.88" fill="#333" stroke="#333" stroke-width="0.25">**</text>
<g transform="translate(246.03 377.40) scale(0.7125 1)" class="mf" font-size="8.0">
<text x="-14.40 -9.60 -4.80 0.00 4.80 9.60" y="2.64">p-mTOR</text>
</g>
<rect x="268.50" y="254.90" width="7.75" height="110.80" fill="#fff" stroke="#484848" stroke-width="0.65"/>
<line x1="272.38" y1="248.70" x2="272.38" y2="261.10" stroke="#222" stroke-width="0.62"/>
<line x1="270.48" y1="248.70" x2="274.27" y2="248.70" stroke="#222" stroke-width="0.62"/>
<line x1="270.48" y1="261.10" x2="274.27" y2="261.10" stroke="#222" stroke-width="0.62"/>
<rect x="276.25" y="265.30" width="7.75" height="100.40" fill="#bdbdbd" stroke="#484848" stroke-width="0.65"/>
<line x1="280.12" y1="262.40" x2="280.12" y2="267.80" stroke="#222" stroke-width="0.62"/>
<line x1="278.23" y1="262.40" x2="282.02" y2="262.40" stroke="#222" stroke-width="0.62"/>
<line x1="278.23" y1="267.80" x2="282.02" y2="267.80" stroke="#222" stroke-width="0.62"/>
<rect x="283.80" y="312.20" width="8.15" height="53.50" fill="#000"/>
<line x1="287.88" y1="308.90" x2="287.88" y2="312.20" stroke="#222" stroke-width="0.62"/>
<line x1="285.98" y1="308.90" x2="289.77" y2="308.90" stroke="#222" stroke-width="0.62"/>
<line x1="285.98" y1="312.20" x2="289.77" y2="312.20" stroke="#222" stroke-width="0.62"/>
<text class="mf" transform="scale(0.8139 1)" x="348.50 352.68" y="310.09" font-size="10.88" fill="#333" stroke="#333" stroke-width="0.25">**</text>
<g transform="translate(280.12 377.40) scale(0.7125 1)" class="mf" font-size="8.0">
<text x="-9.60 -4.80 0.00 4.80" y="2.64">S6K1</text>
</g>
<rect x="302.60" y="256.10" width="7.75" height="109.60" fill="#fff" stroke="#484848" stroke-width="0.65"/>
<line x1="306.48" y1="252.40" x2="306.48" y2="259.90" stroke="#222" stroke-width="0.62"/>
<line x1="304.58" y1="252.40" x2="308.38" y2="252.40" stroke="#222" stroke-width="0.62"/>
<line x1="304.58" y1="259.90" x2="308.38" y2="259.90" stroke="#222" stroke-width="0.62"/>
<rect x="310.35" y="254.40" width="7.75" height="111.30" fill="#bdbdbd" stroke="#484848" stroke-width="0.65"/>
<line x1="314.23" y1="249.40" x2="314.23" y2="259.90" stroke="#222" stroke-width="0.62"/>
<line x1="312.33" y1="249.40" x2="316.12" y2="249.40" stroke="#222" stroke-width="0.62"/>
<line x1="312.33" y1="259.90" x2="316.12" y2="259.90" stroke="#222" stroke-width="0.62"/>
<rect x="317.90" y="334.40" width="8.15" height="31.30" fill="#000"/>
<line x1="321.98" y1="329.90" x2="321.98" y2="334.40" stroke="#222" stroke-width="0.62"/>
<line x1="320.08" y1="329.90" x2="323.88" y2="329.90" stroke="#222" stroke-width="0.62"/>
<line x1="320.08" y1="334.40" x2="323.88" y2="334.40" stroke="#222" stroke-width="0.62"/>
<text class="mf" transform="scale(0.8139 1)" x="391.01 395.19" y="331.09" font-size="10.88" fill="#333" stroke="#333" stroke-width="0.25">**</text>
<g transform="translate(314.23 377.40) scale(0.7125 1)" class="mf" font-size="8.0">
<text x="-14.40 -9.60 -4.80 0.00 4.80 9.60" y="2.64">p-S6K1</text>
</g>
<rect x="336.70" y="266.60" width="7.75" height="99.10" fill="#fff" stroke="#484848" stroke-width="0.65"/>
<line x1="340.57" y1="252.40" x2="340.57" y2="280.50" stroke="#222" stroke-width="0.62"/>
<line x1="338.68" y1="252.40" x2="342.47" y2="252.40" stroke="#222" stroke-width="0.62"/>
<line x1="338.68" y1="280.50" x2="342.47" y2="280.50" stroke="#222" stroke-width="0.62"/>
<rect x="344.45" y="243.70" width="7.75" height="122.00" fill="#bdbdbd" stroke="#484848" stroke-width="0.65"/>
<line x1="348.32" y1="240.50" x2="348.32" y2="247.40" stroke="#222" stroke-width="0.62"/>
<line x1="346.43" y1="240.50" x2="350.22" y2="240.50" stroke="#222" stroke-width="0.62"/>
<line x1="346.43" y1="247.40" x2="350.22" y2="247.40" stroke="#222" stroke-width="0.62"/>
<rect x="352.00" y="320.10" width="8.15" height="45.60" fill="#000"/>
<line x1="356.07" y1="315.90" x2="356.07" y2="320.10" stroke="#222" stroke-width="0.62"/>
<line x1="354.18" y1="315.90" x2="357.97" y2="315.90" stroke="#222" stroke-width="0.62"/>
<line x1="354.18" y1="320.10" x2="357.97" y2="320.10" stroke="#222" stroke-width="0.62"/>
<text class="mf" transform="scale(0.8139 1)" x="432.78 436.96" y="317.09" font-size="10.88" fill="#333" stroke="#333" stroke-width="0.25">**</text>
<g transform="translate(348.32 377.40) scale(0.7125 1)" class="mf" font-size="8.0">
<text x="-14.40 -9.60 -4.80 0.00 4.80 9.60" y="2.64">SREBP1</text>
</g>
<rect x="370.60" y="256.10" width="7.75" height="109.60" fill="#fff" stroke="#484848" stroke-width="0.65"/>
<line x1="374.48" y1="251.20" x2="374.48" y2="261.10" stroke="#222" stroke-width="0.62"/>
<line x1="372.58" y1="251.20" x2="376.38" y2="251.20" stroke="#222" stroke-width="0.62"/>
<line x1="372.58" y1="261.10" x2="376.38" y2="261.10" stroke="#222" stroke-width="0.62"/>
<rect x="378.35" y="247.40" width="7.75" height="118.30" fill="#bdbdbd" stroke="#484848" stroke-width="0.65"/>
<line x1="382.23" y1="242.90" x2="382.23" y2="251.20" stroke="#222" stroke-width="0.62"/>
<line x1="380.33" y1="242.90" x2="384.12" y2="242.90" stroke="#222" stroke-width="0.62"/>
<line x1="380.33" y1="251.20" x2="384.12" y2="251.20" stroke="#222" stroke-width="0.62"/>
<rect x="385.90" y="307.90" width="8.15" height="57.80" fill="#000"/>
<line x1="389.98" y1="304.20" x2="389.98" y2="307.90" stroke="#222" stroke-width="0.62"/>
<line x1="388.08" y1="304.20" x2="391.88" y2="304.20" stroke="#222" stroke-width="0.62"/>
<line x1="388.08" y1="307.90" x2="391.88" y2="307.90" stroke="#222" stroke-width="0.62"/>
<text class="mf" transform="scale(0.8139 1)" x="475.54 479.72" y="305.29" font-size="10.88" fill="#333" stroke="#333" stroke-width="0.25">**</text>
<g transform="translate(382.23 377.40) scale(0.7125 1)" class="mf" font-size="8.0">
<text x="-19.20" y="2.64">β</text>
<text x="-12.00 -7.20 -2.40 2.40 7.20 12.00 16.80" y="2.64">-casein</text>
</g>
<rect x="405.00" y="247.90" width="7.75" height="117.80" fill="#fff" stroke="#484848" stroke-width="0.65"/>
<line x1="408.88" y1="237.50" x2="408.88" y2="258.10" stroke="#222" stroke-width="0.62"/>
<line x1="406.98" y1="237.50" x2="410.77" y2="237.50" stroke="#222" stroke-width="0.62"/>
<line x1="406.98" y1="258.10" x2="410.77" y2="258.10" stroke="#222" stroke-width="0.62"/>
<rect x="412.75" y="247.40" width="7.75" height="118.30" fill="#bdbdbd" stroke="#484848" stroke-width="0.65"/>
<line x1="416.62" y1="244.40" x2="416.62" y2="251.20" stroke="#222" stroke-width="0.62"/>
<line x1="414.73" y1="244.40" x2="418.52" y2="244.40" stroke="#222" stroke-width="0.62"/>
<line x1="414.73" y1="251.20" x2="418.52" y2="251.20" stroke="#222" stroke-width="0.62"/>
<rect x="420.30" y="308.40" width="8.15" height="57.30" fill="#000"/>
<line x1="424.38" y1="305.90" x2="424.38" y2="308.40" stroke="#222" stroke-width="0.62"/>
<line x1="422.48" y1="305.90" x2="426.27" y2="305.90" stroke="#222" stroke-width="0.62"/>
<line x1="422.48" y1="308.40" x2="426.27" y2="308.40" stroke="#222" stroke-width="0.62"/>
<text class="mf" transform="scale(0.8139 1)" x="517.81 521.98" y="305.89" font-size="10.88" fill="#333" stroke="#333" stroke-width="0.25">**</text>
<g transform="translate(416.62 377.40) scale(0.7125 1)" class="mf" font-size="8.0">
<text x="-19.20 -14.40 -9.60 -4.80 0.00 4.80 9.60 14.40" y="2.64">CyclinD1</text>
</g>
<g transform="translate(39.50 330.40) rotate(-90) scale(0.7609 1)" class="mf" font-size="9.2">
<text x="0.39 6.70 13.01 19.32 25.63 31.94 38.25 44.55 50.86" y="3.04">proteins/</text>
<text x="60.33" y="3.04">β</text>
<text x="69.79 76.10 82.41 88.71 95.02 101.33" y="3.04">-actin</text>
</g>
<text class="sf" x="32.80" y="215.10" font-size="14.2" textLength="6.90" lengthAdjust="spacingAndGlyphs" fill="#111" font-weight="bold" stroke="#111" stroke-width="0.2">C</text>
<rect x="87.20" y="201.20" width="289.80" height="25.20" fill="#fff" stroke="#b5b5b5" stroke-width="0.7"/>
<rect x="97.90" y="211.90" width="3.80" height="4.60" fill="#fff" stroke="#333" stroke-width="0.6"/>
<g transform="translate(104.30 214.60) scale(0.7815 1)" class="mf" font-size="7.4">
<text x="0.00 4.44 8.88 13.32 17.76 22.20 26.64" y="2.44">control</text>
<text x="35.52 39.96 44.40 48.84 53.28" y="2.44">group</text>
</g>
<rect x="167.60" y="211.90" width="3.80" height="4.60" fill="#bdbdbd" stroke="#333" stroke-width="0.6"/>
<g transform="translate(174.20 214.60) scale(0.7815 1)" class="mf" font-size="7.4">
<text x="0.00 4.44 8.88 13.32 17.76 22.20 26.64 31.08 35.52 39.96 44.40 48.84 53.28 57.72 62.16" y="2.44">pGCMV-IRES-EGFP</text>
<text x="71.04 75.48 79.92 84.36 88.80" y="2.44">group</text>
</g>
<rect x="264.50" y="211.90" width="3.80" height="4.60" fill="#000" stroke="#333" stroke-width="0.6"/>
<g transform="translate(270.60 214.60) scale(0.7815 1)" class="mf" font-size="7.4">
<text x="0.00 4.44 8.88 13.32 17.76 22.20 26.64 31.08 35.52 39.96 44.40 48.84 53.28 57.72 62.16 66.60 71.04 75.48 79.92 84.36" y="2.44">pGCMV-IRES-EGFP-GSK3</text>
<text x="91.02" y="2.44">β</text>
<text x="102.12 106.56 111.00 115.44 119.88" y="2.44">group</text>
</g>
<line x1="36.50" y1="395.80" x2="36.50" y2="521.80" stroke="#cfcfcf" stroke-width="1.0"/>
<line x1="36.50" y1="521.50" x2="219.60" y2="521.50" stroke="#cfcfcf" stroke-width="1.0"/>
<line x1="36.50" y1="521.50" x2="38.50" y2="521.50" stroke="#cfcfcf" stroke-width="0.7"/>
<g transform="translate(31.00 521.50) scale(0.5966 1)" class="mf" font-size="8.8">
<text x="-10.56 -5.28" y="2.90">75</text>
</g>
<line x1="36.50" y1="496.30" x2="38.50" y2="496.30" stroke="#cfcfcf" stroke-width="0.7"/>
<g transform="translate(31.00 496.30) scale(0.5966 1)" class="mf" font-size="8.8">
<text x="-10.56 -5.28" y="2.90">80</text>
</g>
<line x1="36.50" y1="471.10" x2="38.50" y2="471.10" stroke="#cfcfcf" stroke-width="0.7"/>
<g transform="translate(31.00 471.10) scale(0.5966 1)" class="mf" font-size="8.8">
<text x="-10.56 -5.28" y="2.90">85</text>
</g>
<line x1="36.50" y1="445.90" x2="38.50" y2="445.90" stroke="#cfcfcf" stroke-width="0.7"/>
<g transform="translate(31.00 445.90) scale(0.5966 1)" class="mf" font-size="8.8">
<text x="-10.56 -5.28" y="2.90">90</text>
</g>
<line x1="36.50" y1="420.70" x2="38.50" y2="420.70" stroke="#cfcfcf" stroke-width="0.7"/>
<g transform="translate(31.00 420.70) scale(0.5966 1)" class="mf" font-size="8.8">
<text x="-10.56 -5.28" y="2.90">95</text>
</g>
<line x1="36.50" y1="395.50" x2="38.50" y2="395.50" stroke="#cfcfcf" stroke-width="0.7"/>
<g transform="translate(31.00 395.50) scale(0.5966 1)" class="mf" font-size="8.8">
<text x="-15.84 -10.56 -5.28" y="2.90">100</text>
</g>
<line x1="36.50" y1="519.50" x2="36.50" y2="521.50" stroke="#cfcfcf" stroke-width="0.8"/>
<line x1="97.40" y1="519.50" x2="97.40" y2="521.50" stroke="#cfcfcf" stroke-width="0.8"/>
<line x1="158.30" y1="519.50" x2="158.30" y2="521.50" stroke="#cfcfcf" stroke-width="0.8"/>
<line x1="219.20" y1="519.50" x2="219.20" y2="521.50" stroke="#cfcfcf" stroke-width="0.8"/>
<rect x="59.20" y="419.90" width="14.70" height="101.60" fill="#000"/>
<line x1="66.55" y1="411.90" x2="66.55" y2="419.90" stroke="#222" stroke-width="0.65"/>
<line x1="64.85" y1="411.90" x2="68.25" y2="411.90" stroke="#222" stroke-width="0.65"/>
<line x1="64.85" y1="419.90" x2="68.25" y2="419.90" stroke="#222" stroke-width="0.65"/>
<rect x="120.40" y="429.40" width="14.10" height="92.10" fill="#000"/>
<line x1="127.45" y1="424.90" x2="127.45" y2="429.40" stroke="#222" stroke-width="0.65"/>
<line x1="125.75" y1="424.90" x2="129.15" y2="424.90" stroke="#222" stroke-width="0.65"/>
<line x1="125.75" y1="429.40" x2="129.15" y2="429.40" stroke="#222" stroke-width="0.65"/>
<rect x="181.60" y="474.10" width="14.40" height="47.40" fill="#000"/>
<line x1="188.80" y1="470.50" x2="188.80" y2="474.10" stroke="#222" stroke-width="0.65"/>
<line x1="187.10" y1="470.50" x2="190.50" y2="470.50" stroke="#222" stroke-width="0.65"/>
<line x1="187.10" y1="474.10" x2="190.50" y2="474.10" stroke="#222" stroke-width="0.65"/>
<text class="mf" transform="scale(0.8139 1)" x="226.37 230.55" y="473.59" font-size="10.88" fill="#333" stroke="#333" stroke-width="0.25">**</text>
<g transform="translate(12.90 518.60) rotate(-90) scale(0.7176 1)" class="mf" font-size="7.2" fill="#666666">
<text x="0.68 6.36 12.03 17.71 23.39 29.07" y="2.38">values</text>
<text x="40.42 46.10" y="2.38">of</text>
<text x="57.45 63.13 68.81 74.49" y="2.38">cell</text>
<text x="85.84 91.52 97.19 102.87 108.55 114.23 119.90 125.58 131.26 136.94 142.61 148.29" y="2.38">viability(%)</text>
</g>
<text class="sf" x="9.60" y="407.50" font-size="15.6" textLength="7.20" lengthAdjust="spacingAndGlyphs" fill="#111" font-weight="bold" stroke="#111" stroke-width="0.2">D</text>
<g transform="translate(44.30 533.40) scale(0.7622 1)" class="mf" font-size="7.5">
<text x="0.00 4.50 9.00 13.50 18.00 22.50 27.00" y="2.48">control</text>
<text x="36.00 40.50 45.00 49.50 54.00" y="2.48">group</text>
</g>
<g transform="translate(102.40 533.40) scale(0.7644 1)" class="mf" font-size="7.5">
<text x="0.00 4.50 9.00 13.50 18.00 22.50 27.00 31.50 36.00 40.50 45.00 49.50 54.00 58.50 63.00" y="2.48">pGCMV-IRES-EGFP</text>
</g>
<g transform="translate(119.50 542.50) scale(0.7622 1)" class="mf" font-size="7.5">
<text x="0.00 4.50 9.00 13.50 18.00" y="2.48">group</text>
</g>
<g transform="translate(162.40 533.40) scale(0.7600 1)" class="mf" font-size="7.5">
<text x="0.00 4.50 9.00 13.50 18.00 22.50 27.00 31.50 36.00 40.50 45.00 49.50 54.00 58.50 63.00 67.50" y="2.48">pGCMV-IRES-EGFP-</text>
</g>
<g transform="translate(168.40 542.50) scale(0.7622 1)" class="mf" font-size="7.5">
<text x="0.00 4.50 9.00 13.50" y="2.48">GSK3</text>
<text x="20.25" y="2.48">β</text>
<text x="31.50 36.00 40.50 45.00 49.50" y="2.48">group</text>
</g>
<line x1="280.50" y1="402.50" x2="280.50" y2="519.60" stroke="#cfcfcf" stroke-width="1.0"/>
<line x1="280.50" y1="519.30" x2="458.40" y2="519.30" stroke="#cfcfcf" stroke-width="1.0"/>
<line x1="280.50" y1="519.30" x2="282.50" y2="519.30" stroke="#cfcfcf" stroke-width="0.7"/>
<g transform="translate(275.00 519.50) scale(0.6352 1)" class="mf" font-size="9.0" fill="#484848">
<text x="-43.20 -37.80 -32.40 -27.00 -21.60 -16.20 -10.80 -5.40" y="2.97">0.00E+00</text>
</g>
<line x1="280.50" y1="504.75" x2="282.50" y2="504.75" stroke="#cfcfcf" stroke-width="0.7"/>
<g transform="translate(275.00 504.95) scale(0.6352 1)" class="mf" font-size="9.0" fill="#484848">
<text x="-43.20 -37.80 -32.40 -27.00 -21.60 -16.20 -10.80 -5.40" y="2.97">1.00E+05</text>
</g>
<line x1="280.50" y1="490.20" x2="282.50" y2="490.20" stroke="#cfcfcf" stroke-width="0.7"/>
<g transform="translate(275.00 490.40) scale(0.6352 1)" class="mf" font-size="9.0" fill="#484848">
<text x="-43.20 -37.80 -32.40 -27.00 -21.60 -16.20 -10.80 -5.40" y="2.97">2.00E+05</text>
</g>
<line x1="280.50" y1="475.65" x2="282.50" y2="475.65" stroke="#cfcfcf" stroke-width="0.7"/>
<g transform="translate(275.00 475.85) scale(0.6352 1)" class="mf" font-size="9.0" fill="#484848">
<text x="-43.20 -37.80 -32.40 -27.00 -21.60 -16.20 -10.80 -5.40" y="2.97">3.00E+05</text>
</g>
<line x1="280.50" y1="461.10" x2="282.50" y2="461.10" stroke="#cfcfcf" stroke-width="0.7"/>
<g transform="translate(275.00 461.30) scale(0.6352 1)" class="mf" font-size="9.0" fill="#484848">
<text x="-43.20 -37.80 -32.40 -27.00 -21.60 -16.20 -10.80 -5.40" y="2.97">4.00E+05</text>
</g>
<line x1="280.50" y1="446.55" x2="282.50" y2="446.55" stroke="#cfcfcf" stroke-width="0.7"/>
<g transform="translate(275.00 446.75) scale(0.6352 1)" class="mf" font-size="9.0" fill="#484848">
<text x="-43.20 -37.80 -32.40 -27.00 -21.60 -16.20 -10.80 -5.40" y="2.97">5.00E+05</text>
</g>
<line x1="280.50" y1="432.00" x2="282.50" y2="432.00" stroke="#cfcfcf" stroke-width="0.7"/>
<g transform="translate(275.00 432.20) scale(0.6352 1)" class="mf" font-size="9.0" fill="#484848">
<text x="-43.20 -37.80 -32.40 -27.00 -21.60 -16.20 -10.80 -5.40" y="2.97">6.00E+05</text>
</g>
<line x1="280.50" y1="417.45" x2="282.50" y2="417.45" stroke="#cfcfcf" stroke-width="0.7"/>
<g transform="translate(275.00 417.65) scale(0.6352 1)" class="mf" font-size="9.0" fill="#484848">
<text x="-43.20 -37.80 -32.40 -27.00 -21.60 -16.20 -10.80 -5.40" y="2.97">7.00E+05</text>
</g>
<line x1="280.50" y1="402.90" x2="282.50" y2="402.90" stroke="#cfcfcf" stroke-width="0.7"/>
<g transform="translate(275.00 403.10) scale(0.6352 1)" class="mf" font-size="9.0" fill="#484848">
<text x="-43.20 -37.80 -32.40 -27.00 -21.60 -16.20 -10.80 -5.40" y="2.97">8.00E+05</text>
</g>
<line x1="280.50" y1="517.30" x2="280.50" y2="519.30" stroke="#cfcfcf" stroke-width="0.8"/>
<line x1="339.80" y1="517.30" x2="339.80" y2="519.30" stroke="#cfcfcf" stroke-width="0.8"/>
<line x1="399.10" y1="517.30" x2="399.10" y2="519.30" stroke="#cfcfcf" stroke-width="0.8"/>
<line x1="458.40" y1="517.30" x2="458.40" y2="519.30" stroke="#cfcfcf" stroke-width="0.8"/>
<rect x="302.90" y="424.10" width="13.70" height="95.20" fill="#000"/>
<line x1="309.75" y1="421.10" x2="309.75" y2="424.10" stroke="#222" stroke-width="0.65"/>
<line x1="308.05" y1="421.10" x2="311.45" y2="421.10" stroke="#222" stroke-width="0.65"/>
<line x1="308.05" y1="424.10" x2="311.45" y2="424.10" stroke="#222" stroke-width="0.65"/>
<rect x="362.10" y="424.60" width="13.50" height="94.70" fill="#000"/>
<line x1="368.85" y1="420.40" x2="368.85" y2="424.60" stroke="#222" stroke-width="0.65"/>
<line x1="367.15" y1="420.40" x2="370.55" y2="420.40" stroke="#222" stroke-width="0.65"/>
<line x1="367.15" y1="424.60" x2="370.55" y2="424.60" stroke="#222" stroke-width="0.65"/>
<rect x="420.90" y="442.00" width="13.80" height="77.30" fill="#000"/>
<line x1="427.80" y1="438.10" x2="427.80" y2="442.00" stroke="#222" stroke-width="0.65"/>
<line x1="426.10" y1="438.10" x2="429.50" y2="438.10" stroke="#222" stroke-width="0.65"/>
<line x1="426.10" y1="442.00" x2="429.50" y2="442.00" stroke="#222" stroke-width="0.65"/>
<text class="mf" transform="scale(0.8139 1)" x="520.76 524.93" y="438.49" font-size="10.88" fill="#333" stroke="#333" stroke-width="0.25">**</text>
<g transform="translate(244.30 518.40) rotate(-90) scale(0.7176 1)" class="mf" font-size="7.2" fill="#666666">
<text x="0.57 6.03 11.49 16.95 22.41 27.87" y="2.38">values</text>
<text x="38.79 44.25" y="2.38">of</text>
<text x="55.17 60.63 66.09 71.55" y="2.38">cell</text>
<text x="82.47 87.93 93.39 98.84 104.30 109.76 115.22 120.68 126.14 131.60 137.06 142.52 147.98" y="2.38">proliferation</text>
</g>
<g transform="translate(287.80 530.90) scale(0.7600 1)" class="mf" font-size="7.5">
<text x="0.00 4.50 9.00 13.50 18.00 22.50 27.00" y="2.48">control</text>
<text x="36.00 40.50 45.00 49.50 54.00" y="2.48">group</text>
</g>
<g transform="translate(342.90 531.10) scale(0.7644 1)" class="mf" font-size="7.5">
<text x="0.00 4.50 9.00 13.50 18.00 22.50 27.00 31.50 36.00 40.50 45.00 49.50 54.00 58.50 63.00" y="2.48">pGCMV-IRES-EGFP</text>
</g>
<g transform="translate(360.00 540.40) scale(0.7622 1)" class="mf" font-size="7.5">
<text x="0.00 4.50 9.00 13.50 18.00" y="2.48">group</text>
</g>
<g transform="translate(401.10 531.10) scale(0.7622 1)" class="mf" font-size="7.5">
<text x="0.00 4.50 9.00 13.50 18.00 22.50 27.00 31.50 36.00 40.50 45.00 49.50 54.00 58.50 63.00 67.50" y="2.48">pGCMV-IRES-EGFP-</text>
</g>
<g transform="translate(407.40 540.40) scale(0.7622 1)" class="mf" font-size="7.5">
<text x="0.00 4.50 9.00 13.50" y="2.48">GSK3</text>
<text x="20.25" y="2.48">β</text>
<text x="31.50 36.00 40.50 45.00 49.50" y="2.48">group</text>
</g>
</svg>
</body>
</html>
